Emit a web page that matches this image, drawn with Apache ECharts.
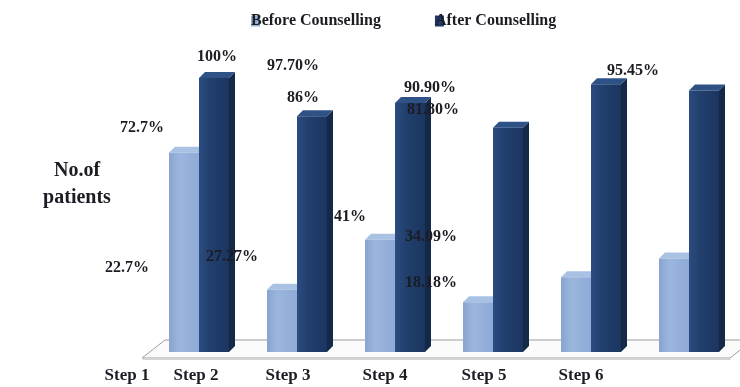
<!DOCTYPE html>
<html>
<head>
<meta charset="utf-8">
<script src="https://cdn.jsdelivr.net/npm/echarts@6/dist/echarts.min.js"></script>
<style>
  html, body { margin: 0; padding: 0; background: #fff; }
  #chart { width: 740px; height: 387px; }
</style>
</head>
<body>
<div id="chart"></div>
<script>
// Share of patients per step, before and after counselling
const categories = ['Step 1', 'Step 2', 'Step 3', 'Step 4', 'Step 5', 'Step 6'];
const beforeValues = [72.7, 22.7, 41, 18.18, 27.27, 34.09];
const beforeDecimals = [1, 1, 0, 2, 2, 2];
const afterValues = [100, 86, 90.90, 81.80, 97.70, 95.45];
const afterDecimals = [0, 0, 2, 2, 2, 2];
const seriesNames = ['Before Counselling', 'After Counselling'];

// label placement relative to the top centre of each bar (px)
const beforeLabelShift = [[-42, -25], [-155, -22], [-30, -23], [-47, -19], [-344, -20], [-243, -22]];
const afterLabelShift = [[3, -21], [-9, -19], [20, -15], [-75, -18], [-313, -18], [-71, -20]];
// horizontal nudge of each category label (px)
const axisLabelShift = [-72, -101, -107, -108, -107, -108];

const SERIF = '"Liberation Serif", "DejaVu Serif", serif';
const BAR_W = 30, DEPTH_X = 6, DEPTH_Y = -6;

const palette = [
  { front: ['#88a4cf', '#9bb6de', '#8eaad6'], side: '#6f8cba', top: '#a9c2e4', legend: '#95b3d7' },
  { front: ['#2b4c80', '#22406e', '#1b3560'], side: '#142848', top: '#2f5286', legend: '#1f3864' }
];

function barRender(seriesIdx) {
  return function (params, api) {
    const xi = api.value(0), v = api.value(1);
    const base = api.coord([xi, 0]);
    const top = api.coord([xi, v]);
    const x0 = seriesIdx === 0 ? base[0] - BAR_W : base[0];
    const x1 = x0 + BAR_W;
    const yt = top[1], yb = base[1];
    const c = palette[seriesIdx];
    return {
      type: 'group',
      children: [
        { type: 'polygon', shape: { points: [[x1, yt], [x1 + DEPTH_X, yt + DEPTH_Y], [x1 + DEPTH_X, yb + DEPTH_Y], [x1, yb]] },
          style: { fill: c.side } },
        { type: 'polygon', shape: { points: [[x0, yt], [x0 + DEPTH_X, yt + DEPTH_Y], [x1 + DEPTH_X, yt + DEPTH_Y], [x1, yt]] },
          style: { fill: c.top } },
        { type: 'rect', shape: { x: x0, y: yt, width: BAR_W, height: yb - yt },
          style: { fill: new echarts.graphic.LinearGradient(0, 0, 1, 0, [
            { offset: 0, color: c.front[0] }, { offset: 0.35, color: c.front[1] }, { offset: 1, color: c.front[2] }
          ]) } }
      ]
    };
  };
}

function labelRender(params, api) {
  const xi = api.value(0), v = api.value(1), s = api.value(2);
  const pt = api.coord([xi, v]);
  const cx = s === 0 ? pt[0] - BAR_W / 2 : pt[0] + BAR_W / 2;
  const shift = s === 0 ? beforeLabelShift[xi] : afterLabelShift[xi];
  const dec = s === 0 ? beforeDecimals[xi] : afterDecimals[xi];
  return {
    type: 'text',
    style: {
      text: v.toFixed(dec) + '%',
      x: cx + shift[0], y: pt[1] + shift[1],
      align: 'center', verticalAlign: 'middle',
      font: 'bold 16px ' + SERIF, fill: '#1c1c24'
    }
  };
}

function floorRender(params, api) {
  const cs = params.coordSys;
  const b = cs.y + cs.height;
  const l = cs.x, r = cs.x + cs.width;
  return {
    type: 'group',
    children: [
      { type: 'polygon', shape: { points: [[l - 8, b + 6], [r - 8, b + 6], [r + 15, b - 12], [l + 15, b - 12]] },
        style: { fill: '#fbfbfb', stroke: '#9d9d9d', lineWidth: 1 } },
      { type: 'polygon', shape: { points: [[l - 8, b + 6], [r - 8, b + 6], [r - 7, b + 8], [l - 7, b + 8]] },
        style: { fill: '#d4d4d4' } }
    ]
  };
}

const labelData = [];
beforeValues.forEach((v, i) => labelData.push([i, v, 0]));
afterValues.forEach((v, i) => labelData.push([i, v, 1]));

const rich = {};
axisLabelShift.forEach((s, i) => {
  rich['s' + i] = { fontFamily: SERIF, fontWeight: 'bold', fontSize: 17, color: '#1c1c24', padding: [0, -2 * s, 0, 0] };
});

const chart = echarts.init(document.getElementById('chart'));
chart.setOption({
  animation: false,
  backgroundColor: '#ffffff',
  title: {
    text: 'No.of\npatients',
    left: 72, top: 152, textAlign: 'center',
    textStyle: { fontFamily: SERIF, fontWeight: 'bold', fontSize: 20, color: '#1c1c24', lineHeight: 27 }
  },
  legend: {
    data: seriesNames,
    top: 8, left: 246,
    itemGap: 54,
    icon: 'rect', itemWidth: 9, itemHeight: 11,
    textStyle: { fontFamily: SERIF, fontWeight: 'bold', fontSize: 16, color: '#1c1c24', padding: [0, 0, 0, -14] }
  },
  grid: { left: 150, right: 2, top: 78, bottom: 35 },
  xAxis: {
    type: 'category',
    data: categories,
    axisLine: { show: false },
    axisTick: { show: false },
    axisLabel: {
      interval: 0, margin: 15,
      formatter: (v, i) => '{s' + i + '|' + v + '}',
      rich: rich
    }
  },
  yAxis: {
    type: 'value', min: 0, max: 100,
    axisLine: { show: false }, axisTick: { show: false },
    axisLabel: { show: false }, splitLine: { show: false }
  },
  series: [
    { type: 'custom', name: 'floor', renderItem: floorRender, data: [[0, 0]], z: 0, silent: true },
    { type: 'custom', name: seriesNames[0], renderItem: barRender(0), z: 2,
      itemStyle: { color: palette[0].legend },
      data: beforeValues.map((v, i) => [i, v]) },
    { type: 'custom', name: seriesNames[1], renderItem: barRender(1), z: 3,
      itemStyle: { color: palette[1].legend },
      data: afterValues.map((v, i) => [i, v]) },
    { type: 'custom', name: 'labels', renderItem: labelRender, data: labelData, z: 5, silent: true }
  ]
});
</script>
</body>
</html>
